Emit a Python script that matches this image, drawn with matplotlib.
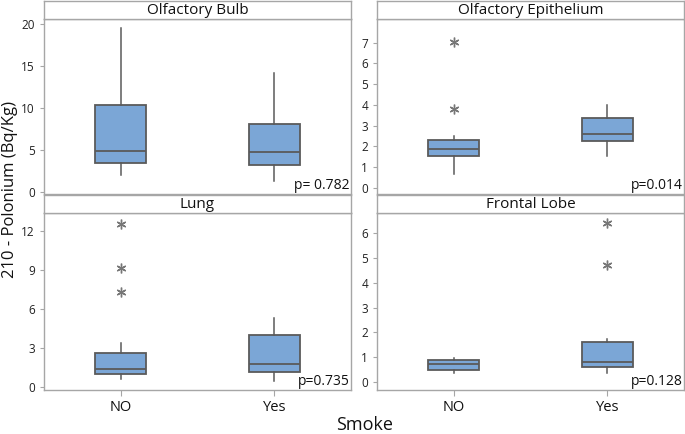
import matplotlib
matplotlib.use("Agg")
import matplotlib.pyplot as plt

plt.rcParams['font.family'] = ['Open Sans', 'DejaVu Sans']

panels = ["Olfactory Bulb", "Olfactory Epithelium", "Lung", "Frontal Lobe"]
groups = ["NO", "Yes"]
pvals = ["p= 0.782", "p=0.014", "p=0.735", "p=0.128"]

# stats per panel: [NO, Yes] each (whislo, q1, med, q3, whishi)
bulb = [(2.0, 3.4, 4.9, 10.4, 19.5), (1.3, 3.2, 4.7, 8.1, 14.2)]
epith = [(0.66, 1.53, 1.87, 2.3, 2.5), (1.53, 2.24, 2.61, 3.37, 3.98)]
lung = [(0.57, 0.96, 1.35, 2.61, 3.41), (0.46, 1.14, 1.73, 4.0, 5.32)]
frontal = [(0.34, 0.47, 0.71, 0.86, 0.94), (0.36, 0.59, 0.81, 1.59, 1.72)]

bulb_out = [[], []]
epith_out = [[3.79, 7.03], []]
lung_out = [[7.28, 9.19, 12.6], []]
frontal_out = [[], [4.72, 6.41]]

stats_all = [bulb, epith, lung, frontal]
outs_all = [bulb_out, epith_out, lung_out, frontal_out]
ylims = [(-0.25, 20.6), (-0.3, 8.14), (-0.26, 13.42), (-0.34, 6.83)]
yticks = [[0, 5, 10, 15, 20], [0, 1, 2, 3, 4, 5, 6, 7], [0, 3, 6, 9, 12], [0, 1, 2, 3, 4, 5, 6]]

W, H = 685, 434
fig = plt.figure(figsize=(W / 100, H / 100), dpi=100)

frame_col = "#a6a6a6"
box_col = "#7ba6d6"
edge_col = "#5a5a5a"

lefts = [44, 377, 44, 377]
tops = [19, 19, 213, 213]
bottoms = [194, 194, 390, 390]
strip_tops = [1, 1, 195, 195]
pw = 307

for i in range(4):
    l, t, b = lefts[i], tops[i], bottoms[i]
    ax = fig.add_axes([l / W, 1 - b / H, pw / W, (b - t) / H])
    st = fig.add_axes([l / W, 1 - t / H, pw / W, (t - strip_tops[i]) / H])
    st.set_xticks([]); st.set_yticks([])
    for s in st.spines.values():
        s.set_color(frame_col); s.set_linewidth(1.0)
    st.text(0.5, 0.45, panels[i], ha="center", va="center", fontsize=11,
            color="#111111", transform=st.transAxes)

    bxs = []
    for g in range(2):
        lo, q1, med, q3, hi = stats_all[i][g]
        bxs.append(dict(whislo=lo, q1=q1, med=med, q3=q3, whishi=hi,
                        fliers=outs_all[i][g], label=groups[g]))
    ax.bxp(bxs, positions=[0, 1], widths=0.33, patch_artist=True, showcaps=False,
           boxprops=dict(facecolor=box_col, edgecolor=edge_col, linewidth=1.3),
           medianprops=dict(color=edge_col, linewidth=1.3),
           whiskerprops=dict(color=edge_col, linewidth=1.1),
           flierprops=dict(marker=(6, 2, 0), markersize=7, markeredgecolor="#777777",
                           markerfacecolor="#777777", markeredgewidth=1.0))
    ax.set_xlim(-0.5, 1.5)
    ax.set_ylim(*ylims[i])
    ax.set_yticks(yticks[i])
    ax.tick_params(axis="y", labelsize=8.5, colors=frame_col, labelcolor="#222222", length=3)
    for s in ax.spines.values():
        s.set_color(frame_col); s.set_linewidth(1.0)
    if i < 2:
        ax.set_xticks([])
    else:
        ax.set_xticks([0, 1])
        ax.set_xticklabels(groups)
        ax.tick_params(axis="x", labelsize=10.5, colors=frame_col, labelcolor="#111111", length=4)
    ax.text(0.995, 0.005, pvals[i], ha="right", va="bottom", fontsize=10,
            color="#111111", transform=ax.transAxes)

fig.text(10 / W, 1 - 190 / H, "210 - Polonium (Bq/Kg)", rotation=90, ha="center",
         va="center", fontsize=12, color="#111111")
fig.text(365 / W, 1 - 425 / H, "Smoke", ha="center", va="center", fontsize=13,
         color="#111111")

fig.savefig("out.png", dpi=100)
